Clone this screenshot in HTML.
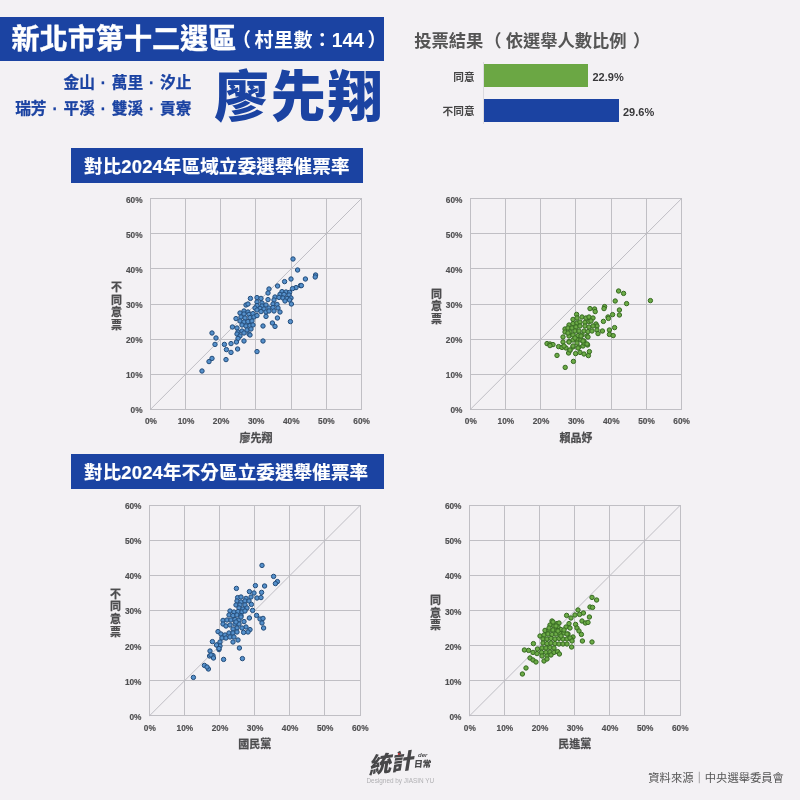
<!DOCTYPE html>
<html lang="zh-Hant"><head><meta charset="utf-8"><title>新北市第十二選區</title>
<style>
html,body{margin:0;padding:0;}
body{width:800px;height:800px;background:#f3f1f4;position:relative;overflow:hidden;font-family:"Liberation Sans","Noto Sans CJK TC",sans-serif;}
.abs{position:absolute;white-space:nowrap;}
.bar{position:absolute;background:#1b43a2;}
.hd{color:#fff;font-weight:700;}
svg{position:absolute;left:0;top:0;}
.g{stroke:#c0bfc4;stroke-width:1;shape-rendering:crispEdges;}
.dg{stroke:#b9b8be;stroke-width:0.9;}
.t{font:700 8.3px "Liberation Sans",sans-serif;fill:#505052;stroke:#505052;stroke-width:0.15px;}
.xt{font:700 11px "Liberation Sans","Noto Sans CJK TC",sans-serif;fill:#4c4c4e;stroke:#4c4c4e;stroke-width:0.25px;}
</style></head><body>
<div class="bar" style="left:0;top:16.5px;width:384px;height:44px;"></div>
<div class="abs hd" style="left:11.5px;top:19.5px;font-size:28.1px;line-height:40px;-webkit-text-stroke:0.4px #fff;">新北市第十二選區</div>
<div class="abs hd" style="left:232px;top:21px;font-size:19px;line-height:40px;"><span style="margin-right:3.6px;">（</span><span style="letter-spacing:0.4px;">村里數</span><span>：</span><span style="font-size:19.3px;">144</span><span style="margin-left:3.5px;">）</span></div>
<div class="abs" style="left:0;width:191.5px;top:69.7px;text-align:right;color:#1b43a2;font-weight:700;font-size:15.7px;line-height:26px;word-spacing:1.5px;-webkit-text-stroke:0.25px #1b43a2;">金山 · 萬里 · 汐止<br>瑞芳 · 平溪 · 雙溪 · 貢寮</div>
<div class="abs" style="left:214px;top:56.5px;color:#1b43a2;font-weight:900;font-size:55px;line-height:80px;letter-spacing:1.7px;">廖先翔</div>

<div class="abs" style="left:414.2px;top:27.8px;color:#555;font-weight:700;font-size:17.3px;line-height:26px;">投票結果<span style="margin-left:1px;margin-right:4px;">（</span>依選舉人數比例<span style="margin-left:6.5px;">）</span></div>
<div class="abs" style="left:483px;top:62px;width:1px;height:62px;background:#dad9de;"></div>
<div class="abs" style="left:484px;top:64px;width:104px;height:23px;background:#6ba744;"></div>
<div class="abs" style="left:484px;top:99px;width:134.5px;height:22.7px;background:#1b43a2;"></div>
<div class="abs" style="left:400px;width:74.7px;top:69px;text-align:right;color:#444;font-weight:700;font-size:10.7px;line-height:16px;">同意</div>
<div class="abs" style="left:400px;width:74.7px;top:103.4px;text-align:right;color:#444;font-weight:700;font-size:10.7px;line-height:16px;">不同意</div>
<div class="abs" style="left:592.5px;top:69.3px;color:#38383a;font-weight:700;font-size:11px;line-height:16px;">22.9%</div>
<div class="abs" style="left:623px;top:103.5px;color:#38383a;font-weight:700;font-size:11px;line-height:16px;">29.6%</div>

<div class="bar" style="left:71px;top:147.5px;width:292px;height:35px;"></div>
<div class="abs hd" style="left:84px;top:151.5px;font-size:18.5px;line-height:30px;letter-spacing:0.15px;-webkit-text-stroke:0.2px #fff;">對比2024年區域立委選舉催票率</div>
<div class="bar" style="left:71px;top:454.2px;width:312.5px;height:35.2px;"></div>
<div class="abs hd" style="left:84px;top:458.3px;font-size:18.5px;line-height:30px;letter-spacing:0.15px;-webkit-text-stroke:0.2px #fff;">對比2024年不分區立委選舉催票率</div>

<svg width="800" height="800" viewBox="0 0 800 800">
<line x1="150.5" y1="198.0" x2="150.5" y2="410.0" class="g"/>
<line x1="150.0" y1="198.5" x2="362.0" y2="198.5" class="g"/>
<line x1="185.5" y1="198.0" x2="185.5" y2="410.0" class="g"/>
<line x1="150.0" y1="233.5" x2="362.0" y2="233.5" class="g"/>
<line x1="220.5" y1="198.0" x2="220.5" y2="410.0" class="g"/>
<line x1="150.0" y1="268.5" x2="362.0" y2="268.5" class="g"/>
<line x1="255.5" y1="198.0" x2="255.5" y2="410.0" class="g"/>
<line x1="150.0" y1="304.5" x2="362.0" y2="304.5" class="g"/>
<line x1="291.5" y1="198.0" x2="291.5" y2="410.0" class="g"/>
<line x1="150.0" y1="339.5" x2="362.0" y2="339.5" class="g"/>
<line x1="326.5" y1="198.0" x2="326.5" y2="410.0" class="g"/>
<line x1="150.0" y1="374.5" x2="362.0" y2="374.5" class="g"/>
<line x1="361.5" y1="198.0" x2="361.5" y2="410.0" class="g"/>
<line x1="150.0" y1="409.5" x2="362.0" y2="409.5" class="g"/>
<line x1="150.6" y1="409.25" x2="361.25" y2="198.75" class="dg"/>
<text x="150.9" y="424.1" class="t" text-anchor="middle">0%</text>
<text x="142.6" y="413.1" class="t" text-anchor="end">0%</text>
<text x="186.0" y="424.1" class="t" text-anchor="middle">10%</text>
<text x="142.6" y="378.0" class="t" text-anchor="end">10%</text>
<text x="221.1" y="424.1" class="t" text-anchor="middle">20%</text>
<text x="142.6" y="342.9" class="t" text-anchor="end">20%</text>
<text x="256.2" y="424.1" class="t" text-anchor="middle">30%</text>
<text x="142.6" y="307.8" class="t" text-anchor="end">30%</text>
<text x="291.3" y="424.1" class="t" text-anchor="middle">40%</text>
<text x="142.6" y="272.7" class="t" text-anchor="end">40%</text>
<text x="326.4" y="424.1" class="t" text-anchor="middle">50%</text>
<text x="142.6" y="237.6" class="t" text-anchor="end">50%</text>
<text x="361.6" y="424.1" class="t" text-anchor="middle">60%</text>
<text x="142.6" y="202.6" class="t" text-anchor="end">60%</text>
<circle cx="293.0" cy="259.0" r="2.2" fill="#5590cb" stroke="#234c7a" stroke-width="1"/>
<circle cx="297.6" cy="270.0" r="2.2" fill="#5590cb" stroke="#234c7a" stroke-width="1"/>
<circle cx="315.6" cy="275.0" r="2.2" fill="#5590cb" stroke="#234c7a" stroke-width="1"/>
<circle cx="315.2" cy="277.0" r="2.2" fill="#5590cb" stroke="#234c7a" stroke-width="1"/>
<circle cx="305.4" cy="279.0" r="2.2" fill="#5590cb" stroke="#234c7a" stroke-width="1"/>
<circle cx="291.0" cy="279.0" r="2.2" fill="#5590cb" stroke="#234c7a" stroke-width="1"/>
<circle cx="284.6" cy="281.6" r="2.2" fill="#5590cb" stroke="#234c7a" stroke-width="1"/>
<circle cx="277.6" cy="286.0" r="2.2" fill="#5590cb" stroke="#234c7a" stroke-width="1"/>
<circle cx="300.4" cy="285.6" r="2.2" fill="#5590cb" stroke="#234c7a" stroke-width="1"/>
<circle cx="301.4" cy="285.6" r="2.2" fill="#5590cb" stroke="#234c7a" stroke-width="1"/>
<circle cx="296.0" cy="287.6" r="2.2" fill="#5590cb" stroke="#234c7a" stroke-width="1"/>
<circle cx="292.6" cy="288.6" r="2.2" fill="#5590cb" stroke="#234c7a" stroke-width="1"/>
<circle cx="269.0" cy="289.0" r="2.2" fill="#5590cb" stroke="#234c7a" stroke-width="1"/>
<circle cx="268.0" cy="293.0" r="2.2" fill="#5590cb" stroke="#234c7a" stroke-width="1"/>
<circle cx="282.0" cy="291.6" r="2.2" fill="#5590cb" stroke="#234c7a" stroke-width="1"/>
<circle cx="286.0" cy="292.0" r="2.2" fill="#5590cb" stroke="#234c7a" stroke-width="1"/>
<circle cx="289.6" cy="292.4" r="2.2" fill="#5590cb" stroke="#234c7a" stroke-width="1"/>
<circle cx="280.0" cy="294.4" r="2.2" fill="#5590cb" stroke="#234c7a" stroke-width="1"/>
<circle cx="284.0" cy="294.4" r="2.2" fill="#5590cb" stroke="#234c7a" stroke-width="1"/>
<circle cx="289.0" cy="295.0" r="2.2" fill="#5590cb" stroke="#234c7a" stroke-width="1"/>
<circle cx="275.0" cy="297.0" r="2.2" fill="#5590cb" stroke="#234c7a" stroke-width="1"/>
<circle cx="279.0" cy="297.4" r="2.2" fill="#5590cb" stroke="#234c7a" stroke-width="1"/>
<circle cx="283.0" cy="298.0" r="2.2" fill="#5590cb" stroke="#234c7a" stroke-width="1"/>
<circle cx="287.0" cy="298.4" r="2.2" fill="#5590cb" stroke="#234c7a" stroke-width="1"/>
<circle cx="291.0" cy="298.0" r="2.2" fill="#5590cb" stroke="#234c7a" stroke-width="1"/>
<circle cx="250.4" cy="298.4" r="2.2" fill="#5590cb" stroke="#234c7a" stroke-width="1"/>
<circle cx="257.0" cy="297.6" r="2.2" fill="#5590cb" stroke="#234c7a" stroke-width="1"/>
<circle cx="261.0" cy="298.4" r="2.2" fill="#5590cb" stroke="#234c7a" stroke-width="1"/>
<circle cx="268.0" cy="299.6" r="2.2" fill="#5590cb" stroke="#234c7a" stroke-width="1"/>
<circle cx="274.0" cy="300.0" r="2.2" fill="#5590cb" stroke="#234c7a" stroke-width="1"/>
<circle cx="285.0" cy="301.0" r="2.2" fill="#5590cb" stroke="#234c7a" stroke-width="1"/>
<circle cx="289.6" cy="300.0" r="2.2" fill="#5590cb" stroke="#234c7a" stroke-width="1"/>
<circle cx="257.0" cy="302.0" r="2.2" fill="#5590cb" stroke="#234c7a" stroke-width="1"/>
<circle cx="262.0" cy="303.0" r="2.2" fill="#5590cb" stroke="#234c7a" stroke-width="1"/>
<circle cx="246.0" cy="305.0" r="2.2" fill="#5590cb" stroke="#234c7a" stroke-width="1"/>
<circle cx="248.0" cy="304.0" r="2.2" fill="#5590cb" stroke="#234c7a" stroke-width="1"/>
<circle cx="291.4" cy="304.0" r="2.2" fill="#5590cb" stroke="#234c7a" stroke-width="1"/>
<circle cx="273.0" cy="304.0" r="2.2" fill="#5590cb" stroke="#234c7a" stroke-width="1"/>
<circle cx="277.0" cy="304.4" r="2.2" fill="#5590cb" stroke="#234c7a" stroke-width="1"/>
<circle cx="257.0" cy="305.6" r="2.2" fill="#5590cb" stroke="#234c7a" stroke-width="1"/>
<circle cx="262.0" cy="306.0" r="2.2" fill="#5590cb" stroke="#234c7a" stroke-width="1"/>
<circle cx="266.0" cy="305.0" r="2.2" fill="#5590cb" stroke="#234c7a" stroke-width="1"/>
<circle cx="255.0" cy="308.0" r="2.2" fill="#5590cb" stroke="#234c7a" stroke-width="1"/>
<circle cx="260.0" cy="308.4" r="2.2" fill="#5590cb" stroke="#234c7a" stroke-width="1"/>
<circle cx="264.0" cy="309.0" r="2.2" fill="#5590cb" stroke="#234c7a" stroke-width="1"/>
<circle cx="269.0" cy="308.0" r="2.2" fill="#5590cb" stroke="#234c7a" stroke-width="1"/>
<circle cx="273.0" cy="307.6" r="2.2" fill="#5590cb" stroke="#234c7a" stroke-width="1"/>
<circle cx="278.0" cy="308.0" r="2.2" fill="#5590cb" stroke="#234c7a" stroke-width="1"/>
<circle cx="244.0" cy="311.0" r="2.2" fill="#5590cb" stroke="#234c7a" stroke-width="1"/>
<circle cx="248.0" cy="312.0" r="2.2" fill="#5590cb" stroke="#234c7a" stroke-width="1"/>
<circle cx="240.0" cy="313.0" r="2.2" fill="#5590cb" stroke="#234c7a" stroke-width="1"/>
<circle cx="244.0" cy="314.0" r="2.2" fill="#5590cb" stroke="#234c7a" stroke-width="1"/>
<circle cx="249.0" cy="314.4" r="2.2" fill="#5590cb" stroke="#234c7a" stroke-width="1"/>
<circle cx="253.0" cy="313.6" r="2.2" fill="#5590cb" stroke="#234c7a" stroke-width="1"/>
<circle cx="257.0" cy="310.0" r="2.2" fill="#5590cb" stroke="#234c7a" stroke-width="1"/>
<circle cx="261.0" cy="311.6" r="2.2" fill="#5590cb" stroke="#234c7a" stroke-width="1"/>
<circle cx="266.0" cy="312.0" r="2.2" fill="#5590cb" stroke="#234c7a" stroke-width="1"/>
<circle cx="269.0" cy="311.0" r="2.2" fill="#5590cb" stroke="#234c7a" stroke-width="1"/>
<circle cx="274.0" cy="311.0" r="2.2" fill="#5590cb" stroke="#234c7a" stroke-width="1"/>
<circle cx="280.0" cy="312.0" r="2.2" fill="#5590cb" stroke="#234c7a" stroke-width="1"/>
<circle cx="236.0" cy="318.6" r="2.2" fill="#5590cb" stroke="#234c7a" stroke-width="1"/>
<circle cx="241.0" cy="317.0" r="2.2" fill="#5590cb" stroke="#234c7a" stroke-width="1"/>
<circle cx="245.0" cy="318.0" r="2.2" fill="#5590cb" stroke="#234c7a" stroke-width="1"/>
<circle cx="250.0" cy="317.6" r="2.2" fill="#5590cb" stroke="#234c7a" stroke-width="1"/>
<circle cx="254.0" cy="317.0" r="2.2" fill="#5590cb" stroke="#234c7a" stroke-width="1"/>
<circle cx="257.0" cy="315.6" r="2.2" fill="#5590cb" stroke="#234c7a" stroke-width="1"/>
<circle cx="266.0" cy="316.4" r="2.2" fill="#5590cb" stroke="#234c7a" stroke-width="1"/>
<circle cx="277.4" cy="318.0" r="2.2" fill="#5590cb" stroke="#234c7a" stroke-width="1"/>
<circle cx="290.4" cy="321.6" r="2.2" fill="#5590cb" stroke="#234c7a" stroke-width="1"/>
<circle cx="240.0" cy="321.0" r="2.2" fill="#5590cb" stroke="#234c7a" stroke-width="1"/>
<circle cx="244.0" cy="322.0" r="2.2" fill="#5590cb" stroke="#234c7a" stroke-width="1"/>
<circle cx="248.0" cy="321.6" r="2.2" fill="#5590cb" stroke="#234c7a" stroke-width="1"/>
<circle cx="252.0" cy="321.0" r="2.2" fill="#5590cb" stroke="#234c7a" stroke-width="1"/>
<circle cx="272.4" cy="323.0" r="2.2" fill="#5590cb" stroke="#234c7a" stroke-width="1"/>
<circle cx="275.0" cy="326.4" r="2.2" fill="#5590cb" stroke="#234c7a" stroke-width="1"/>
<circle cx="263.0" cy="326.0" r="2.2" fill="#5590cb" stroke="#234c7a" stroke-width="1"/>
<circle cx="232.4" cy="327.0" r="2.2" fill="#5590cb" stroke="#234c7a" stroke-width="1"/>
<circle cx="237.0" cy="328.0" r="2.2" fill="#5590cb" stroke="#234c7a" stroke-width="1"/>
<circle cx="242.0" cy="325.0" r="2.2" fill="#5590cb" stroke="#234c7a" stroke-width="1"/>
<circle cx="246.0" cy="326.0" r="2.2" fill="#5590cb" stroke="#234c7a" stroke-width="1"/>
<circle cx="250.0" cy="325.6" r="2.2" fill="#5590cb" stroke="#234c7a" stroke-width="1"/>
<circle cx="253.0" cy="325.0" r="2.2" fill="#5590cb" stroke="#234c7a" stroke-width="1"/>
<circle cx="238.0" cy="332.0" r="2.2" fill="#5590cb" stroke="#234c7a" stroke-width="1"/>
<circle cx="242.0" cy="331.0" r="2.2" fill="#5590cb" stroke="#234c7a" stroke-width="1"/>
<circle cx="247.0" cy="330.0" r="2.2" fill="#5590cb" stroke="#234c7a" stroke-width="1"/>
<circle cx="251.0" cy="329.0" r="2.2" fill="#5590cb" stroke="#234c7a" stroke-width="1"/>
<circle cx="212.0" cy="333.0" r="2.2" fill="#5590cb" stroke="#234c7a" stroke-width="1"/>
<circle cx="216.0" cy="338.0" r="2.2" fill="#5590cb" stroke="#234c7a" stroke-width="1"/>
<circle cx="237.0" cy="334.0" r="2.2" fill="#5590cb" stroke="#234c7a" stroke-width="1"/>
<circle cx="240.0" cy="336.0" r="2.2" fill="#5590cb" stroke="#234c7a" stroke-width="1"/>
<circle cx="244.0" cy="333.0" r="2.2" fill="#5590cb" stroke="#234c7a" stroke-width="1"/>
<circle cx="249.0" cy="334.0" r="2.2" fill="#5590cb" stroke="#234c7a" stroke-width="1"/>
<circle cx="250.0" cy="335.0" r="2.2" fill="#5590cb" stroke="#234c7a" stroke-width="1"/>
<circle cx="238.0" cy="338.4" r="2.2" fill="#5590cb" stroke="#234c7a" stroke-width="1"/>
<circle cx="244.0" cy="341.0" r="2.2" fill="#5590cb" stroke="#234c7a" stroke-width="1"/>
<circle cx="236.4" cy="342.0" r="2.2" fill="#5590cb" stroke="#234c7a" stroke-width="1"/>
<circle cx="263.0" cy="341.0" r="2.2" fill="#5590cb" stroke="#234c7a" stroke-width="1"/>
<circle cx="231.0" cy="343.6" r="2.2" fill="#5590cb" stroke="#234c7a" stroke-width="1"/>
<circle cx="224.4" cy="344.4" r="2.2" fill="#5590cb" stroke="#234c7a" stroke-width="1"/>
<circle cx="215.0" cy="344.4" r="2.2" fill="#5590cb" stroke="#234c7a" stroke-width="1"/>
<circle cx="226.4" cy="349.6" r="2.2" fill="#5590cb" stroke="#234c7a" stroke-width="1"/>
<circle cx="237.6" cy="349.0" r="2.2" fill="#5590cb" stroke="#234c7a" stroke-width="1"/>
<circle cx="257.0" cy="351.6" r="2.2" fill="#5590cb" stroke="#234c7a" stroke-width="1"/>
<circle cx="231.0" cy="352.4" r="2.2" fill="#5590cb" stroke="#234c7a" stroke-width="1"/>
<circle cx="212.0" cy="358.4" r="2.2" fill="#5590cb" stroke="#234c7a" stroke-width="1"/>
<circle cx="209.0" cy="361.6" r="2.2" fill="#5590cb" stroke="#234c7a" stroke-width="1"/>
<circle cx="226.0" cy="359.6" r="2.2" fill="#5590cb" stroke="#234c7a" stroke-width="1"/>
<circle cx="202.0" cy="371.0" r="2.2" fill="#5590cb" stroke="#234c7a" stroke-width="1"/>
<text x="255.9" y="441.6" class="xt" text-anchor="middle">廖先翔</text>
<text x="116.6" y="291.1" class="xt" text-anchor="middle">不</text>
<text x="116.6" y="303.7" class="xt" text-anchor="middle">同</text>
<text x="116.6" y="316.3" class="xt" text-anchor="middle">意</text>
<text x="116.6" y="328.9" class="xt" text-anchor="middle">票</text>
<line x1="470.5" y1="198.0" x2="470.5" y2="410.0" class="g"/>
<line x1="470.0" y1="198.5" x2="682.0" y2="198.5" class="g"/>
<line x1="505.5" y1="198.0" x2="505.5" y2="410.0" class="g"/>
<line x1="470.0" y1="233.5" x2="682.0" y2="233.5" class="g"/>
<line x1="540.5" y1="198.0" x2="540.5" y2="410.0" class="g"/>
<line x1="470.0" y1="268.5" x2="682.0" y2="268.5" class="g"/>
<line x1="575.5" y1="198.0" x2="575.5" y2="410.0" class="g"/>
<line x1="470.0" y1="304.5" x2="682.0" y2="304.5" class="g"/>
<line x1="611.5" y1="198.0" x2="611.5" y2="410.0" class="g"/>
<line x1="470.0" y1="339.5" x2="682.0" y2="339.5" class="g"/>
<line x1="646.5" y1="198.0" x2="646.5" y2="410.0" class="g"/>
<line x1="470.0" y1="374.5" x2="682.0" y2="374.5" class="g"/>
<line x1="681.5" y1="198.0" x2="681.5" y2="410.0" class="g"/>
<line x1="470.0" y1="409.5" x2="682.0" y2="409.5" class="g"/>
<line x1="470.45" y1="409.3" x2="681.35" y2="198.8" class="dg"/>
<text x="470.8" y="424.2" class="t" text-anchor="middle">0%</text>
<text x="462.4" y="413.1" class="t" text-anchor="end">0%</text>
<text x="505.9" y="424.2" class="t" text-anchor="middle">10%</text>
<text x="462.4" y="378.0" class="t" text-anchor="end">10%</text>
<text x="541.0" y="424.2" class="t" text-anchor="middle">20%</text>
<text x="462.4" y="342.9" class="t" text-anchor="end">20%</text>
<text x="576.2" y="424.2" class="t" text-anchor="middle">30%</text>
<text x="462.4" y="307.9" class="t" text-anchor="end">30%</text>
<text x="611.3" y="424.2" class="t" text-anchor="middle">40%</text>
<text x="462.4" y="272.8" class="t" text-anchor="end">40%</text>
<text x="646.5" y="424.2" class="t" text-anchor="middle">50%</text>
<text x="462.4" y="237.7" class="t" text-anchor="end">50%</text>
<text x="681.6" y="424.2" class="t" text-anchor="middle">60%</text>
<text x="462.4" y="202.6" class="t" text-anchor="end">60%</text>
<circle cx="618.6" cy="291.0" r="2.2" fill="#6cab47" stroke="#376a22" stroke-width="1"/>
<circle cx="623.6" cy="293.4" r="2.2" fill="#6cab47" stroke="#376a22" stroke-width="1"/>
<circle cx="650.4" cy="300.6" r="2.2" fill="#6cab47" stroke="#376a22" stroke-width="1"/>
<circle cx="615.2" cy="301.0" r="2.2" fill="#6cab47" stroke="#376a22" stroke-width="1"/>
<circle cx="626.6" cy="303.6" r="2.2" fill="#6cab47" stroke="#376a22" stroke-width="1"/>
<circle cx="604.6" cy="306.6" r="2.2" fill="#6cab47" stroke="#376a22" stroke-width="1"/>
<circle cx="604.0" cy="308.6" r="2.2" fill="#6cab47" stroke="#376a22" stroke-width="1"/>
<circle cx="590.0" cy="308.6" r="2.2" fill="#6cab47" stroke="#376a22" stroke-width="1"/>
<circle cx="594.6" cy="309.0" r="2.2" fill="#6cab47" stroke="#376a22" stroke-width="1"/>
<circle cx="595.2" cy="311.6" r="2.2" fill="#6cab47" stroke="#376a22" stroke-width="1"/>
<circle cx="619.4" cy="310.0" r="2.2" fill="#6cab47" stroke="#376a22" stroke-width="1"/>
<circle cx="576.6" cy="314.4" r="2.2" fill="#6cab47" stroke="#376a22" stroke-width="1"/>
<circle cx="612.6" cy="314.6" r="2.2" fill="#6cab47" stroke="#376a22" stroke-width="1"/>
<circle cx="619.4" cy="315.0" r="2.2" fill="#6cab47" stroke="#376a22" stroke-width="1"/>
<circle cx="608.0" cy="317.0" r="2.2" fill="#6cab47" stroke="#376a22" stroke-width="1"/>
<circle cx="608.4" cy="318.4" r="2.2" fill="#6cab47" stroke="#376a22" stroke-width="1"/>
<circle cx="573.0" cy="319.4" r="2.2" fill="#6cab47" stroke="#376a22" stroke-width="1"/>
<circle cx="577.0" cy="318.0" r="2.2" fill="#6cab47" stroke="#376a22" stroke-width="1"/>
<circle cx="582.0" cy="317.0" r="2.2" fill="#6cab47" stroke="#376a22" stroke-width="1"/>
<circle cx="586.0" cy="318.0" r="2.2" fill="#6cab47" stroke="#376a22" stroke-width="1"/>
<circle cx="589.0" cy="317.0" r="2.2" fill="#6cab47" stroke="#376a22" stroke-width="1"/>
<circle cx="593.0" cy="318.0" r="2.2" fill="#6cab47" stroke="#376a22" stroke-width="1"/>
<circle cx="603.4" cy="321.4" r="2.2" fill="#6cab47" stroke="#376a22" stroke-width="1"/>
<circle cx="569.0" cy="325.0" r="2.2" fill="#6cab47" stroke="#376a22" stroke-width="1"/>
<circle cx="573.0" cy="323.6" r="2.2" fill="#6cab47" stroke="#376a22" stroke-width="1"/>
<circle cx="577.0" cy="323.0" r="2.2" fill="#6cab47" stroke="#376a22" stroke-width="1"/>
<circle cx="580.0" cy="322.0" r="2.2" fill="#6cab47" stroke="#376a22" stroke-width="1"/>
<circle cx="585.0" cy="322.4" r="2.2" fill="#6cab47" stroke="#376a22" stroke-width="1"/>
<circle cx="589.0" cy="321.6" r="2.2" fill="#6cab47" stroke="#376a22" stroke-width="1"/>
<circle cx="591.0" cy="321.0" r="2.2" fill="#6cab47" stroke="#376a22" stroke-width="1"/>
<circle cx="596.0" cy="324.0" r="2.2" fill="#6cab47" stroke="#376a22" stroke-width="1"/>
<circle cx="597.0" cy="326.0" r="2.2" fill="#6cab47" stroke="#376a22" stroke-width="1"/>
<circle cx="565.0" cy="329.0" r="2.2" fill="#6cab47" stroke="#376a22" stroke-width="1"/>
<circle cx="568.0" cy="328.0" r="2.2" fill="#6cab47" stroke="#376a22" stroke-width="1"/>
<circle cx="572.0" cy="328.0" r="2.2" fill="#6cab47" stroke="#376a22" stroke-width="1"/>
<circle cx="576.0" cy="327.0" r="2.2" fill="#6cab47" stroke="#376a22" stroke-width="1"/>
<circle cx="580.0" cy="326.0" r="2.2" fill="#6cab47" stroke="#376a22" stroke-width="1"/>
<circle cx="585.0" cy="326.0" r="2.2" fill="#6cab47" stroke="#376a22" stroke-width="1"/>
<circle cx="589.0" cy="327.0" r="2.2" fill="#6cab47" stroke="#376a22" stroke-width="1"/>
<circle cx="593.0" cy="326.0" r="2.2" fill="#6cab47" stroke="#376a22" stroke-width="1"/>
<circle cx="614.6" cy="327.6" r="2.2" fill="#6cab47" stroke="#376a22" stroke-width="1"/>
<circle cx="609.4" cy="330.0" r="2.2" fill="#6cab47" stroke="#376a22" stroke-width="1"/>
<circle cx="602.4" cy="331.0" r="2.2" fill="#6cab47" stroke="#376a22" stroke-width="1"/>
<circle cx="565.0" cy="332.0" r="2.2" fill="#6cab47" stroke="#376a22" stroke-width="1"/>
<circle cx="570.0" cy="332.0" r="2.2" fill="#6cab47" stroke="#376a22" stroke-width="1"/>
<circle cx="575.0" cy="331.0" r="2.2" fill="#6cab47" stroke="#376a22" stroke-width="1"/>
<circle cx="579.0" cy="331.0" r="2.2" fill="#6cab47" stroke="#376a22" stroke-width="1"/>
<circle cx="584.0" cy="331.0" r="2.2" fill="#6cab47" stroke="#376a22" stroke-width="1"/>
<circle cx="588.0" cy="331.6" r="2.2" fill="#6cab47" stroke="#376a22" stroke-width="1"/>
<circle cx="592.0" cy="331.0" r="2.2" fill="#6cab47" stroke="#376a22" stroke-width="1"/>
<circle cx="597.0" cy="330.0" r="2.2" fill="#6cab47" stroke="#376a22" stroke-width="1"/>
<circle cx="598.0" cy="333.6" r="2.2" fill="#6cab47" stroke="#376a22" stroke-width="1"/>
<circle cx="609.4" cy="334.4" r="2.2" fill="#6cab47" stroke="#376a22" stroke-width="1"/>
<circle cx="613.2" cy="335.6" r="2.2" fill="#6cab47" stroke="#376a22" stroke-width="1"/>
<circle cx="563.0" cy="337.0" r="2.2" fill="#6cab47" stroke="#376a22" stroke-width="1"/>
<circle cx="569.0" cy="336.0" r="2.2" fill="#6cab47" stroke="#376a22" stroke-width="1"/>
<circle cx="573.0" cy="335.0" r="2.2" fill="#6cab47" stroke="#376a22" stroke-width="1"/>
<circle cx="578.0" cy="335.6" r="2.2" fill="#6cab47" stroke="#376a22" stroke-width="1"/>
<circle cx="582.0" cy="335.0" r="2.2" fill="#6cab47" stroke="#376a22" stroke-width="1"/>
<circle cx="587.0" cy="336.0" r="2.2" fill="#6cab47" stroke="#376a22" stroke-width="1"/>
<circle cx="588.0" cy="337.0" r="2.2" fill="#6cab47" stroke="#376a22" stroke-width="1"/>
<circle cx="547.0" cy="343.6" r="2.2" fill="#6cab47" stroke="#376a22" stroke-width="1"/>
<circle cx="550.0" cy="344.0" r="2.2" fill="#6cab47" stroke="#376a22" stroke-width="1"/>
<circle cx="553.0" cy="344.6" r="2.2" fill="#6cab47" stroke="#376a22" stroke-width="1"/>
<circle cx="550.0" cy="345.6" r="2.2" fill="#6cab47" stroke="#376a22" stroke-width="1"/>
<circle cx="563.0" cy="342.0" r="2.2" fill="#6cab47" stroke="#376a22" stroke-width="1"/>
<circle cx="569.0" cy="341.6" r="2.2" fill="#6cab47" stroke="#376a22" stroke-width="1"/>
<circle cx="573.0" cy="340.0" r="2.2" fill="#6cab47" stroke="#376a22" stroke-width="1"/>
<circle cx="577.0" cy="339.6" r="2.2" fill="#6cab47" stroke="#376a22" stroke-width="1"/>
<circle cx="581.0" cy="340.0" r="2.2" fill="#6cab47" stroke="#376a22" stroke-width="1"/>
<circle cx="584.0" cy="341.0" r="2.2" fill="#6cab47" stroke="#376a22" stroke-width="1"/>
<circle cx="558.6" cy="346.6" r="2.2" fill="#6cab47" stroke="#376a22" stroke-width="1"/>
<circle cx="562.0" cy="347.4" r="2.2" fill="#6cab47" stroke="#376a22" stroke-width="1"/>
<circle cx="566.0" cy="348.0" r="2.2" fill="#6cab47" stroke="#376a22" stroke-width="1"/>
<circle cx="573.0" cy="347.0" r="2.2" fill="#6cab47" stroke="#376a22" stroke-width="1"/>
<circle cx="579.0" cy="347.0" r="2.2" fill="#6cab47" stroke="#376a22" stroke-width="1"/>
<circle cx="583.0" cy="346.0" r="2.2" fill="#6cab47" stroke="#376a22" stroke-width="1"/>
<circle cx="587.6" cy="345.0" r="2.2" fill="#6cab47" stroke="#376a22" stroke-width="1"/>
<circle cx="584.0" cy="343.0" r="2.2" fill="#6cab47" stroke="#376a22" stroke-width="1"/>
<circle cx="570.0" cy="350.4" r="2.2" fill="#6cab47" stroke="#376a22" stroke-width="1"/>
<circle cx="568.6" cy="353.0" r="2.2" fill="#6cab47" stroke="#376a22" stroke-width="1"/>
<circle cx="557.0" cy="355.4" r="2.2" fill="#6cab47" stroke="#376a22" stroke-width="1"/>
<circle cx="575.6" cy="353.6" r="2.2" fill="#6cab47" stroke="#376a22" stroke-width="1"/>
<circle cx="580.0" cy="352.4" r="2.2" fill="#6cab47" stroke="#376a22" stroke-width="1"/>
<circle cx="584.0" cy="354.0" r="2.2" fill="#6cab47" stroke="#376a22" stroke-width="1"/>
<circle cx="588.4" cy="355.6" r="2.2" fill="#6cab47" stroke="#376a22" stroke-width="1"/>
<circle cx="589.4" cy="351.6" r="2.2" fill="#6cab47" stroke="#376a22" stroke-width="1"/>
<circle cx="573.4" cy="361.4" r="2.2" fill="#6cab47" stroke="#376a22" stroke-width="1"/>
<circle cx="565.2" cy="367.4" r="2.2" fill="#6cab47" stroke="#376a22" stroke-width="1"/>
<circle cx="569" cy="342" r="2.2" fill="#6cab47" stroke="#376a22" stroke-width="1"/>
<circle cx="573" cy="346" r="2.2" fill="#6cab47" stroke="#376a22" stroke-width="1"/>
<circle cx="570" cy="350" r="2.2" fill="#6cab47" stroke="#376a22" stroke-width="1"/>
<circle cx="578" cy="348" r="2.2" fill="#6cab47" stroke="#376a22" stroke-width="1"/>
<circle cx="583" cy="341" r="2.2" fill="#6cab47" stroke="#376a22" stroke-width="1"/>
<circle cx="587" cy="344" r="2.2" fill="#6cab47" stroke="#376a22" stroke-width="1"/>
<circle cx="564" cy="346" r="2.2" fill="#6cab47" stroke="#376a22" stroke-width="1"/>
<circle cx="575" cy="338" r="2.2" fill="#6cab47" stroke="#376a22" stroke-width="1"/>
<circle cx="581" cy="336" r="2.2" fill="#6cab47" stroke="#376a22" stroke-width="1"/>
<circle cx="568" cy="333" r="2.2" fill="#6cab47" stroke="#376a22" stroke-width="1"/>
<circle cx="577" cy="343" r="2.2" fill="#6cab47" stroke="#376a22" stroke-width="1"/>
<text x="575.9" y="441.6" class="xt" text-anchor="middle">賴品妤</text>
<text x="436.4" y="297.5" class="xt" text-anchor="middle">同</text>
<text x="436.4" y="310.1" class="xt" text-anchor="middle">意</text>
<text x="436.4" y="322.7" class="xt" text-anchor="middle">票</text>
<line x1="149.5" y1="505.0" x2="149.5" y2="716.0" class="g"/>
<line x1="149.0" y1="505.5" x2="361.0" y2="505.5" class="g"/>
<line x1="184.5" y1="505.0" x2="184.5" y2="716.0" class="g"/>
<line x1="149.0" y1="540.5" x2="361.0" y2="540.5" class="g"/>
<line x1="219.5" y1="505.0" x2="219.5" y2="716.0" class="g"/>
<line x1="149.0" y1="575.5" x2="361.0" y2="575.5" class="g"/>
<line x1="254.5" y1="505.0" x2="254.5" y2="716.0" class="g"/>
<line x1="149.0" y1="610.5" x2="361.0" y2="610.5" class="g"/>
<line x1="289.5" y1="505.0" x2="289.5" y2="716.0" class="g"/>
<line x1="149.0" y1="645.5" x2="361.0" y2="645.5" class="g"/>
<line x1="324.5" y1="505.0" x2="324.5" y2="716.0" class="g"/>
<line x1="149.0" y1="680.5" x2="361.0" y2="680.5" class="g"/>
<line x1="360.5" y1="505.0" x2="360.5" y2="716.0" class="g"/>
<line x1="149.0" y1="715.5" x2="361.0" y2="715.5" class="g"/>
<line x1="149.5" y1="715.75" x2="360.0" y2="505.5" class="dg"/>
<text x="149.8" y="730.6" class="t" text-anchor="middle">0%</text>
<text x="141.5" y="719.5" class="t" text-anchor="end">0%</text>
<text x="184.9" y="730.6" class="t" text-anchor="middle">10%</text>
<text x="141.5" y="684.5" class="t" text-anchor="end">10%</text>
<text x="220.0" y="730.6" class="t" text-anchor="middle">20%</text>
<text x="141.5" y="649.5" class="t" text-anchor="end">20%</text>
<text x="255.1" y="730.6" class="t" text-anchor="middle">30%</text>
<text x="141.5" y="614.4" class="t" text-anchor="end">30%</text>
<text x="290.1" y="730.6" class="t" text-anchor="middle">40%</text>
<text x="141.5" y="579.4" class="t" text-anchor="end">40%</text>
<text x="325.2" y="730.6" class="t" text-anchor="middle">50%</text>
<text x="141.5" y="544.3" class="t" text-anchor="end">50%</text>
<text x="360.3" y="730.6" class="t" text-anchor="middle">60%</text>
<text x="141.5" y="509.3" class="t" text-anchor="end">60%</text>
<circle cx="262.0" cy="565.4" r="2.2" fill="#5590cb" stroke="#234c7a" stroke-width="1"/>
<circle cx="273.6" cy="576.4" r="2.2" fill="#5590cb" stroke="#234c7a" stroke-width="1"/>
<circle cx="277.4" cy="581.6" r="2.2" fill="#5590cb" stroke="#234c7a" stroke-width="1"/>
<circle cx="275.4" cy="583.6" r="2.2" fill="#5590cb" stroke="#234c7a" stroke-width="1"/>
<circle cx="255.4" cy="585.6" r="2.2" fill="#5590cb" stroke="#234c7a" stroke-width="1"/>
<circle cx="264.6" cy="586.0" r="2.2" fill="#5590cb" stroke="#234c7a" stroke-width="1"/>
<circle cx="236.4" cy="588.4" r="2.2" fill="#5590cb" stroke="#234c7a" stroke-width="1"/>
<circle cx="249.4" cy="591.6" r="2.2" fill="#5590cb" stroke="#234c7a" stroke-width="1"/>
<circle cx="254.0" cy="593.0" r="2.2" fill="#5590cb" stroke="#234c7a" stroke-width="1"/>
<circle cx="261.6" cy="592.4" r="2.2" fill="#5590cb" stroke="#234c7a" stroke-width="1"/>
<circle cx="257.0" cy="598.0" r="2.2" fill="#5590cb" stroke="#234c7a" stroke-width="1"/>
<circle cx="261.0" cy="597.6" r="2.2" fill="#5590cb" stroke="#234c7a" stroke-width="1"/>
<circle cx="237.6" cy="597.6" r="2.2" fill="#5590cb" stroke="#234c7a" stroke-width="1"/>
<circle cx="241.0" cy="597.0" r="2.2" fill="#5590cb" stroke="#234c7a" stroke-width="1"/>
<circle cx="246.0" cy="598.4" r="2.2" fill="#5590cb" stroke="#234c7a" stroke-width="1"/>
<circle cx="251.0" cy="597.0" r="2.2" fill="#5590cb" stroke="#234c7a" stroke-width="1"/>
<circle cx="237.0" cy="601.0" r="2.2" fill="#5590cb" stroke="#234c7a" stroke-width="1"/>
<circle cx="241.0" cy="602.0" r="2.2" fill="#5590cb" stroke="#234c7a" stroke-width="1"/>
<circle cx="245.0" cy="601.0" r="2.2" fill="#5590cb" stroke="#234c7a" stroke-width="1"/>
<circle cx="249.0" cy="601.0" r="2.2" fill="#5590cb" stroke="#234c7a" stroke-width="1"/>
<circle cx="236.0" cy="605.0" r="2.2" fill="#5590cb" stroke="#234c7a" stroke-width="1"/>
<circle cx="240.0" cy="605.0" r="2.2" fill="#5590cb" stroke="#234c7a" stroke-width="1"/>
<circle cx="245.0" cy="605.0" r="2.2" fill="#5590cb" stroke="#234c7a" stroke-width="1"/>
<circle cx="251.4" cy="604.4" r="2.2" fill="#5590cb" stroke="#234c7a" stroke-width="1"/>
<circle cx="239.0" cy="608.0" r="2.2" fill="#5590cb" stroke="#234c7a" stroke-width="1"/>
<circle cx="243.0" cy="609.0" r="2.2" fill="#5590cb" stroke="#234c7a" stroke-width="1"/>
<circle cx="247.0" cy="608.0" r="2.2" fill="#5590cb" stroke="#234c7a" stroke-width="1"/>
<circle cx="252.6" cy="610.4" r="2.2" fill="#5590cb" stroke="#234c7a" stroke-width="1"/>
<circle cx="230.0" cy="611.0" r="2.2" fill="#5590cb" stroke="#234c7a" stroke-width="1"/>
<circle cx="234.0" cy="612.0" r="2.2" fill="#5590cb" stroke="#234c7a" stroke-width="1"/>
<circle cx="238.0" cy="611.6" r="2.2" fill="#5590cb" stroke="#234c7a" stroke-width="1"/>
<circle cx="242.0" cy="612.0" r="2.2" fill="#5590cb" stroke="#234c7a" stroke-width="1"/>
<circle cx="229.0" cy="615.0" r="2.2" fill="#5590cb" stroke="#234c7a" stroke-width="1"/>
<circle cx="233.0" cy="615.6" r="2.2" fill="#5590cb" stroke="#234c7a" stroke-width="1"/>
<circle cx="237.0" cy="615.0" r="2.2" fill="#5590cb" stroke="#234c7a" stroke-width="1"/>
<circle cx="241.0" cy="615.6" r="2.2" fill="#5590cb" stroke="#234c7a" stroke-width="1"/>
<circle cx="256.6" cy="615.4" r="2.2" fill="#5590cb" stroke="#234c7a" stroke-width="1"/>
<circle cx="249.4" cy="618.0" r="2.2" fill="#5590cb" stroke="#234c7a" stroke-width="1"/>
<circle cx="260.0" cy="619.0" r="2.2" fill="#5590cb" stroke="#234c7a" stroke-width="1"/>
<circle cx="263.0" cy="618.4" r="2.2" fill="#5590cb" stroke="#234c7a" stroke-width="1"/>
<circle cx="223.0" cy="620.4" r="2.2" fill="#5590cb" stroke="#234c7a" stroke-width="1"/>
<circle cx="227.0" cy="620.0" r="2.2" fill="#5590cb" stroke="#234c7a" stroke-width="1"/>
<circle cx="231.0" cy="620.0" r="2.2" fill="#5590cb" stroke="#234c7a" stroke-width="1"/>
<circle cx="235.0" cy="619.6" r="2.2" fill="#5590cb" stroke="#234c7a" stroke-width="1"/>
<circle cx="239.0" cy="620.0" r="2.2" fill="#5590cb" stroke="#234c7a" stroke-width="1"/>
<circle cx="244.0" cy="621.6" r="2.2" fill="#5590cb" stroke="#234c7a" stroke-width="1"/>
<circle cx="262.0" cy="623.0" r="2.2" fill="#5590cb" stroke="#234c7a" stroke-width="1"/>
<circle cx="223.0" cy="624.0" r="2.2" fill="#5590cb" stroke="#234c7a" stroke-width="1"/>
<circle cx="226.0" cy="626.0" r="2.2" fill="#5590cb" stroke="#234c7a" stroke-width="1"/>
<circle cx="230.0" cy="625.0" r="2.2" fill="#5590cb" stroke="#234c7a" stroke-width="1"/>
<circle cx="235.0" cy="624.0" r="2.2" fill="#5590cb" stroke="#234c7a" stroke-width="1"/>
<circle cx="239.0" cy="624.0" r="2.2" fill="#5590cb" stroke="#234c7a" stroke-width="1"/>
<circle cx="263.6" cy="628.0" r="2.2" fill="#5590cb" stroke="#234c7a" stroke-width="1"/>
<circle cx="246.0" cy="627.0" r="2.2" fill="#5590cb" stroke="#234c7a" stroke-width="1"/>
<circle cx="242.0" cy="628.0" r="2.2" fill="#5590cb" stroke="#234c7a" stroke-width="1"/>
<circle cx="237.0" cy="628.0" r="2.2" fill="#5590cb" stroke="#234c7a" stroke-width="1"/>
<circle cx="233.0" cy="629.0" r="2.2" fill="#5590cb" stroke="#234c7a" stroke-width="1"/>
<circle cx="250.0" cy="629.6" r="2.2" fill="#5590cb" stroke="#234c7a" stroke-width="1"/>
<circle cx="248.0" cy="632.0" r="2.2" fill="#5590cb" stroke="#234c7a" stroke-width="1"/>
<circle cx="243.6" cy="632.4" r="2.2" fill="#5590cb" stroke="#234c7a" stroke-width="1"/>
<circle cx="218.0" cy="631.6" r="2.2" fill="#5590cb" stroke="#234c7a" stroke-width="1"/>
<circle cx="221.0" cy="634.0" r="2.2" fill="#5590cb" stroke="#234c7a" stroke-width="1"/>
<circle cx="225.0" cy="635.0" r="2.2" fill="#5590cb" stroke="#234c7a" stroke-width="1"/>
<circle cx="229.0" cy="633.0" r="2.2" fill="#5590cb" stroke="#234c7a" stroke-width="1"/>
<circle cx="233.0" cy="633.0" r="2.2" fill="#5590cb" stroke="#234c7a" stroke-width="1"/>
<circle cx="237.0" cy="632.0" r="2.2" fill="#5590cb" stroke="#234c7a" stroke-width="1"/>
<circle cx="222.0" cy="638.0" r="2.2" fill="#5590cb" stroke="#234c7a" stroke-width="1"/>
<circle cx="226.0" cy="638.0" r="2.2" fill="#5590cb" stroke="#234c7a" stroke-width="1"/>
<circle cx="230.0" cy="637.0" r="2.2" fill="#5590cb" stroke="#234c7a" stroke-width="1"/>
<circle cx="234.0" cy="637.0" r="2.2" fill="#5590cb" stroke="#234c7a" stroke-width="1"/>
<circle cx="238.0" cy="640.0" r="2.2" fill="#5590cb" stroke="#234c7a" stroke-width="1"/>
<circle cx="212.4" cy="641.6" r="2.2" fill="#5590cb" stroke="#234c7a" stroke-width="1"/>
<circle cx="220.0" cy="642.0" r="2.2" fill="#5590cb" stroke="#234c7a" stroke-width="1"/>
<circle cx="233.0" cy="642.0" r="2.2" fill="#5590cb" stroke="#234c7a" stroke-width="1"/>
<circle cx="217.0" cy="645.0" r="2.2" fill="#5590cb" stroke="#234c7a" stroke-width="1"/>
<circle cx="220.0" cy="646.0" r="2.2" fill="#5590cb" stroke="#234c7a" stroke-width="1"/>
<circle cx="239.4" cy="648.0" r="2.2" fill="#5590cb" stroke="#234c7a" stroke-width="1"/>
<circle cx="210.0" cy="651.0" r="2.2" fill="#5590cb" stroke="#234c7a" stroke-width="1"/>
<circle cx="219.0" cy="649.6" r="2.2" fill="#5590cb" stroke="#234c7a" stroke-width="1"/>
<circle cx="213.0" cy="655.6" r="2.2" fill="#5590cb" stroke="#234c7a" stroke-width="1"/>
<circle cx="209.6" cy="656.0" r="2.2" fill="#5590cb" stroke="#234c7a" stroke-width="1"/>
<circle cx="223.6" cy="659.4" r="2.2" fill="#5590cb" stroke="#234c7a" stroke-width="1"/>
<circle cx="242.4" cy="658.6" r="2.2" fill="#5590cb" stroke="#234c7a" stroke-width="1"/>
<circle cx="204.4" cy="665.4" r="2.2" fill="#5590cb" stroke="#234c7a" stroke-width="1"/>
<circle cx="208.4" cy="669.0" r="2.2" fill="#5590cb" stroke="#234c7a" stroke-width="1"/>
<circle cx="207.0" cy="667.0" r="2.2" fill="#5590cb" stroke="#234c7a" stroke-width="1"/>
<circle cx="193.4" cy="677.4" r="2.2" fill="#5590cb" stroke="#234c7a" stroke-width="1"/>
<circle cx="216.5" cy="645" r="2.2" fill="#5590cb" stroke="#234c7a" stroke-width="1"/>
<circle cx="219" cy="648.5" r="2.2" fill="#5590cb" stroke="#234c7a" stroke-width="1"/>
<circle cx="211" cy="655" r="2.2" fill="#5590cb" stroke="#234c7a" stroke-width="1"/>
<circle cx="213.5" cy="658" r="2.2" fill="#5590cb" stroke="#234c7a" stroke-width="1"/>
<circle cx="236" cy="622" r="2.2" fill="#5590cb" stroke="#234c7a" stroke-width="1"/>
<circle cx="241" cy="617" r="2.2" fill="#5590cb" stroke="#234c7a" stroke-width="1"/>
<circle cx="245" cy="611" r="2.2" fill="#5590cb" stroke="#234c7a" stroke-width="1"/>
<text x="254.8" y="748.0" class="xt" text-anchor="middle">國民黨</text>
<text x="115.5" y="597.7" class="xt" text-anchor="middle">不</text>
<text x="115.5" y="610.3" class="xt" text-anchor="middle">同</text>
<text x="115.5" y="622.9" class="xt" text-anchor="middle">意</text>
<text x="115.5" y="635.5" class="xt" text-anchor="middle">票</text>
<line x1="469.5" y1="505.0" x2="469.5" y2="716.0" class="g"/>
<line x1="469.0" y1="505.5" x2="681.0" y2="505.5" class="g"/>
<line x1="504.5" y1="505.0" x2="504.5" y2="716.0" class="g"/>
<line x1="469.0" y1="540.5" x2="681.0" y2="540.5" class="g"/>
<line x1="539.5" y1="505.0" x2="539.5" y2="716.0" class="g"/>
<line x1="469.0" y1="575.5" x2="681.0" y2="575.5" class="g"/>
<line x1="574.5" y1="505.0" x2="574.5" y2="716.0" class="g"/>
<line x1="469.0" y1="610.5" x2="681.0" y2="610.5" class="g"/>
<line x1="609.5" y1="505.0" x2="609.5" y2="716.0" class="g"/>
<line x1="469.0" y1="645.5" x2="681.0" y2="645.5" class="g"/>
<line x1="644.5" y1="505.0" x2="644.5" y2="716.0" class="g"/>
<line x1="469.0" y1="680.5" x2="681.0" y2="680.5" class="g"/>
<line x1="680.5" y1="505.0" x2="680.5" y2="716.0" class="g"/>
<line x1="469.0" y1="715.5" x2="681.0" y2="715.5" class="g"/>
<line x1="469.5" y1="715.9" x2="680.0" y2="505.5" class="dg"/>
<text x="469.8" y="730.8" class="t" text-anchor="middle">0%</text>
<text x="461.5" y="719.7" class="t" text-anchor="end">0%</text>
<text x="504.9" y="730.8" class="t" text-anchor="middle">10%</text>
<text x="461.5" y="684.6" class="t" text-anchor="end">10%</text>
<text x="540.0" y="730.8" class="t" text-anchor="middle">20%</text>
<text x="461.5" y="649.6" class="t" text-anchor="end">20%</text>
<text x="575.0" y="730.8" class="t" text-anchor="middle">30%</text>
<text x="461.5" y="614.5" class="t" text-anchor="end">30%</text>
<text x="610.1" y="730.8" class="t" text-anchor="middle">40%</text>
<text x="461.5" y="579.4" class="t" text-anchor="end">40%</text>
<text x="645.2" y="730.8" class="t" text-anchor="middle">50%</text>
<text x="461.5" y="544.4" class="t" text-anchor="end">50%</text>
<text x="680.3" y="730.8" class="t" text-anchor="middle">60%</text>
<text x="461.5" y="509.3" class="t" text-anchor="end">60%</text>
<circle cx="592.0" cy="597.4" r="2.2" fill="#6cab47" stroke="#376a22" stroke-width="1"/>
<circle cx="596.6" cy="600.0" r="2.2" fill="#6cab47" stroke="#376a22" stroke-width="1"/>
<circle cx="590.0" cy="607.0" r="2.2" fill="#6cab47" stroke="#376a22" stroke-width="1"/>
<circle cx="592.6" cy="607.4" r="2.2" fill="#6cab47" stroke="#376a22" stroke-width="1"/>
<circle cx="578.0" cy="610.0" r="2.2" fill="#6cab47" stroke="#376a22" stroke-width="1"/>
<circle cx="583.4" cy="613.0" r="2.2" fill="#6cab47" stroke="#376a22" stroke-width="1"/>
<circle cx="566.6" cy="615.4" r="2.2" fill="#6cab47" stroke="#376a22" stroke-width="1"/>
<circle cx="571.0" cy="618.0" r="2.2" fill="#6cab47" stroke="#376a22" stroke-width="1"/>
<circle cx="575.0" cy="615.0" r="2.2" fill="#6cab47" stroke="#376a22" stroke-width="1"/>
<circle cx="579.6" cy="614.4" r="2.2" fill="#6cab47" stroke="#376a22" stroke-width="1"/>
<circle cx="589.4" cy="617.0" r="2.2" fill="#6cab47" stroke="#376a22" stroke-width="1"/>
<circle cx="582.0" cy="621.0" r="2.2" fill="#6cab47" stroke="#376a22" stroke-width="1"/>
<circle cx="585.4" cy="623.0" r="2.2" fill="#6cab47" stroke="#376a22" stroke-width="1"/>
<circle cx="588.0" cy="622.4" r="2.2" fill="#6cab47" stroke="#376a22" stroke-width="1"/>
<circle cx="552.0" cy="621.0" r="2.2" fill="#6cab47" stroke="#376a22" stroke-width="1"/>
<circle cx="557.0" cy="623.6" r="2.2" fill="#6cab47" stroke="#376a22" stroke-width="1"/>
<circle cx="559.0" cy="623.0" r="2.2" fill="#6cab47" stroke="#376a22" stroke-width="1"/>
<circle cx="569.0" cy="623.6" r="2.2" fill="#6cab47" stroke="#376a22" stroke-width="1"/>
<circle cx="575.6" cy="624.4" r="2.2" fill="#6cab47" stroke="#376a22" stroke-width="1"/>
<circle cx="550.0" cy="625.0" r="2.2" fill="#6cab47" stroke="#376a22" stroke-width="1"/>
<circle cx="554.0" cy="626.0" r="2.2" fill="#6cab47" stroke="#376a22" stroke-width="1"/>
<circle cx="558.0" cy="627.0" r="2.2" fill="#6cab47" stroke="#376a22" stroke-width="1"/>
<circle cx="566.0" cy="627.0" r="2.2" fill="#6cab47" stroke="#376a22" stroke-width="1"/>
<circle cx="570.0" cy="628.0" r="2.2" fill="#6cab47" stroke="#376a22" stroke-width="1"/>
<circle cx="577.0" cy="628.0" r="2.2" fill="#6cab47" stroke="#376a22" stroke-width="1"/>
<circle cx="545.0" cy="630.4" r="2.2" fill="#6cab47" stroke="#376a22" stroke-width="1"/>
<circle cx="549.0" cy="630.0" r="2.2" fill="#6cab47" stroke="#376a22" stroke-width="1"/>
<circle cx="553.0" cy="630.0" r="2.2" fill="#6cab47" stroke="#376a22" stroke-width="1"/>
<circle cx="557.0" cy="630.4" r="2.2" fill="#6cab47" stroke="#376a22" stroke-width="1"/>
<circle cx="561.0" cy="629.6" r="2.2" fill="#6cab47" stroke="#376a22" stroke-width="1"/>
<circle cx="579.0" cy="631.0" r="2.2" fill="#6cab47" stroke="#376a22" stroke-width="1"/>
<circle cx="540.0" cy="636.0" r="2.2" fill="#6cab47" stroke="#376a22" stroke-width="1"/>
<circle cx="544.0" cy="635.0" r="2.2" fill="#6cab47" stroke="#376a22" stroke-width="1"/>
<circle cx="548.0" cy="634.0" r="2.2" fill="#6cab47" stroke="#376a22" stroke-width="1"/>
<circle cx="552.0" cy="634.4" r="2.2" fill="#6cab47" stroke="#376a22" stroke-width="1"/>
<circle cx="556.0" cy="634.0" r="2.2" fill="#6cab47" stroke="#376a22" stroke-width="1"/>
<circle cx="560.0" cy="633.6" r="2.2" fill="#6cab47" stroke="#376a22" stroke-width="1"/>
<circle cx="564.0" cy="633.0" r="2.2" fill="#6cab47" stroke="#376a22" stroke-width="1"/>
<circle cx="568.0" cy="634.0" r="2.2" fill="#6cab47" stroke="#376a22" stroke-width="1"/>
<circle cx="581.4" cy="634.4" r="2.2" fill="#6cab47" stroke="#376a22" stroke-width="1"/>
<circle cx="573.0" cy="637.0" r="2.2" fill="#6cab47" stroke="#376a22" stroke-width="1"/>
<circle cx="571.0" cy="639.0" r="2.2" fill="#6cab47" stroke="#376a22" stroke-width="1"/>
<circle cx="543.0" cy="639.0" r="2.2" fill="#6cab47" stroke="#376a22" stroke-width="1"/>
<circle cx="547.0" cy="639.0" r="2.2" fill="#6cab47" stroke="#376a22" stroke-width="1"/>
<circle cx="551.0" cy="638.4" r="2.2" fill="#6cab47" stroke="#376a22" stroke-width="1"/>
<circle cx="555.0" cy="639.0" r="2.2" fill="#6cab47" stroke="#376a22" stroke-width="1"/>
<circle cx="559.0" cy="638.4" r="2.2" fill="#6cab47" stroke="#376a22" stroke-width="1"/>
<circle cx="563.0" cy="639.0" r="2.2" fill="#6cab47" stroke="#376a22" stroke-width="1"/>
<circle cx="567.0" cy="639.0" r="2.2" fill="#6cab47" stroke="#376a22" stroke-width="1"/>
<circle cx="582.4" cy="641.0" r="2.2" fill="#6cab47" stroke="#376a22" stroke-width="1"/>
<circle cx="592.0" cy="642.0" r="2.2" fill="#6cab47" stroke="#376a22" stroke-width="1"/>
<circle cx="533.4" cy="643.6" r="2.2" fill="#6cab47" stroke="#376a22" stroke-width="1"/>
<circle cx="543.0" cy="643.0" r="2.2" fill="#6cab47" stroke="#376a22" stroke-width="1"/>
<circle cx="547.0" cy="643.6" r="2.2" fill="#6cab47" stroke="#376a22" stroke-width="1"/>
<circle cx="551.0" cy="643.0" r="2.2" fill="#6cab47" stroke="#376a22" stroke-width="1"/>
<circle cx="555.0" cy="643.6" r="2.2" fill="#6cab47" stroke="#376a22" stroke-width="1"/>
<circle cx="559.0" cy="644.0" r="2.2" fill="#6cab47" stroke="#376a22" stroke-width="1"/>
<circle cx="563.0" cy="644.0" r="2.2" fill="#6cab47" stroke="#376a22" stroke-width="1"/>
<circle cx="567.0" cy="644.0" r="2.2" fill="#6cab47" stroke="#376a22" stroke-width="1"/>
<circle cx="571.6" cy="647.0" r="2.2" fill="#6cab47" stroke="#376a22" stroke-width="1"/>
<circle cx="537.4" cy="649.0" r="2.2" fill="#6cab47" stroke="#376a22" stroke-width="1"/>
<circle cx="542.0" cy="648.0" r="2.2" fill="#6cab47" stroke="#376a22" stroke-width="1"/>
<circle cx="546.0" cy="648.0" r="2.2" fill="#6cab47" stroke="#376a22" stroke-width="1"/>
<circle cx="550.0" cy="647.6" r="2.2" fill="#6cab47" stroke="#376a22" stroke-width="1"/>
<circle cx="554.0" cy="648.0" r="2.2" fill="#6cab47" stroke="#376a22" stroke-width="1"/>
<circle cx="524.4" cy="650.0" r="2.2" fill="#6cab47" stroke="#376a22" stroke-width="1"/>
<circle cx="528.6" cy="650.4" r="2.2" fill="#6cab47" stroke="#376a22" stroke-width="1"/>
<circle cx="533.0" cy="652.4" r="2.2" fill="#6cab47" stroke="#376a22" stroke-width="1"/>
<circle cx="537.0" cy="653.6" r="2.2" fill="#6cab47" stroke="#376a22" stroke-width="1"/>
<circle cx="541.6" cy="652.4" r="2.2" fill="#6cab47" stroke="#376a22" stroke-width="1"/>
<circle cx="546.0" cy="652.4" r="2.2" fill="#6cab47" stroke="#376a22" stroke-width="1"/>
<circle cx="550.0" cy="652.0" r="2.2" fill="#6cab47" stroke="#376a22" stroke-width="1"/>
<circle cx="554.0" cy="652.4" r="2.2" fill="#6cab47" stroke="#376a22" stroke-width="1"/>
<circle cx="557.6" cy="651.6" r="2.2" fill="#6cab47" stroke="#376a22" stroke-width="1"/>
<circle cx="559.4" cy="654.0" r="2.2" fill="#6cab47" stroke="#376a22" stroke-width="1"/>
<circle cx="530.0" cy="658.0" r="2.2" fill="#6cab47" stroke="#376a22" stroke-width="1"/>
<circle cx="533.0" cy="660.0" r="2.2" fill="#6cab47" stroke="#376a22" stroke-width="1"/>
<circle cx="536.0" cy="662.0" r="2.2" fill="#6cab47" stroke="#376a22" stroke-width="1"/>
<circle cx="542.0" cy="656.0" r="2.2" fill="#6cab47" stroke="#376a22" stroke-width="1"/>
<circle cx="547.0" cy="656.0" r="2.2" fill="#6cab47" stroke="#376a22" stroke-width="1"/>
<circle cx="551.0" cy="655.0" r="2.2" fill="#6cab47" stroke="#376a22" stroke-width="1"/>
<circle cx="544.0" cy="661.0" r="2.2" fill="#6cab47" stroke="#376a22" stroke-width="1"/>
<circle cx="547.0" cy="659.0" r="2.2" fill="#6cab47" stroke="#376a22" stroke-width="1"/>
<circle cx="526.0" cy="668.0" r="2.2" fill="#6cab47" stroke="#376a22" stroke-width="1"/>
<circle cx="522.4" cy="674.0" r="2.2" fill="#6cab47" stroke="#376a22" stroke-width="1"/>
<circle cx="564" cy="630" r="2.2" fill="#6cab47" stroke="#376a22" stroke-width="1"/>
<circle cx="567" cy="634" r="2.2" fill="#6cab47" stroke="#376a22" stroke-width="1"/>
<circle cx="570" cy="638" r="2.2" fill="#6cab47" stroke="#376a22" stroke-width="1"/>
<circle cx="572" cy="641" r="2.2" fill="#6cab47" stroke="#376a22" stroke-width="1"/>
<circle cx="561" cy="636" r="2.2" fill="#6cab47" stroke="#376a22" stroke-width="1"/>
<circle cx="556" cy="626" r="2.2" fill="#6cab47" stroke="#376a22" stroke-width="1"/>
<circle cx="553" cy="622" r="2.2" fill="#6cab47" stroke="#376a22" stroke-width="1"/>
<circle cx="558" cy="631" r="2.2" fill="#6cab47" stroke="#376a22" stroke-width="1"/>
<circle cx="549" cy="628" r="2.2" fill="#6cab47" stroke="#376a22" stroke-width="1"/>
<text x="574.8" y="748.2" class="xt" text-anchor="middle">民進黨</text>
<text x="435.5" y="604.1" class="xt" text-anchor="middle">同</text>
<text x="435.5" y="616.7" class="xt" text-anchor="middle">意</text>
<text x="435.5" y="629.3" class="xt" text-anchor="middle">票</text>
</svg>

<div class="abs" style="left:370px;top:749px;color:#474749;font-weight:900;font-size:22.5px;line-height:30px;transform:skew(-9deg,-8deg);transform-origin:50% 50%;letter-spacing:-0.5px;">統計</div>
<div class="abs" style="left:418px;top:751px;color:#4a4a4c;font-weight:700;font-size:6px;line-height:8px;font-style:italic;">der</div>
<div class="abs" style="left:413.5px;top:757.8px;color:#474749;font-weight:900;font-size:8.7px;line-height:12px;transform:skewX(-6deg);">日常</div>
<div class="abs" style="left:397.5px;top:752.8px;width:0;height:0;border-left:3.2px solid #e0363a;border-top:1.8px solid transparent;border-bottom:1.8px solid transparent;"></div>
<div class="abs" style="left:366.5px;top:776px;color:#b0b0b3;font-size:6.4px;line-height:10px;">Designed by JIASIN YU</div>
<div class="abs" style="left:648.3px;top:770.4px;color:#555;font-size:11.3px;line-height:16px;">資料來源｜中央選舉委員會</div>
</body></html>
